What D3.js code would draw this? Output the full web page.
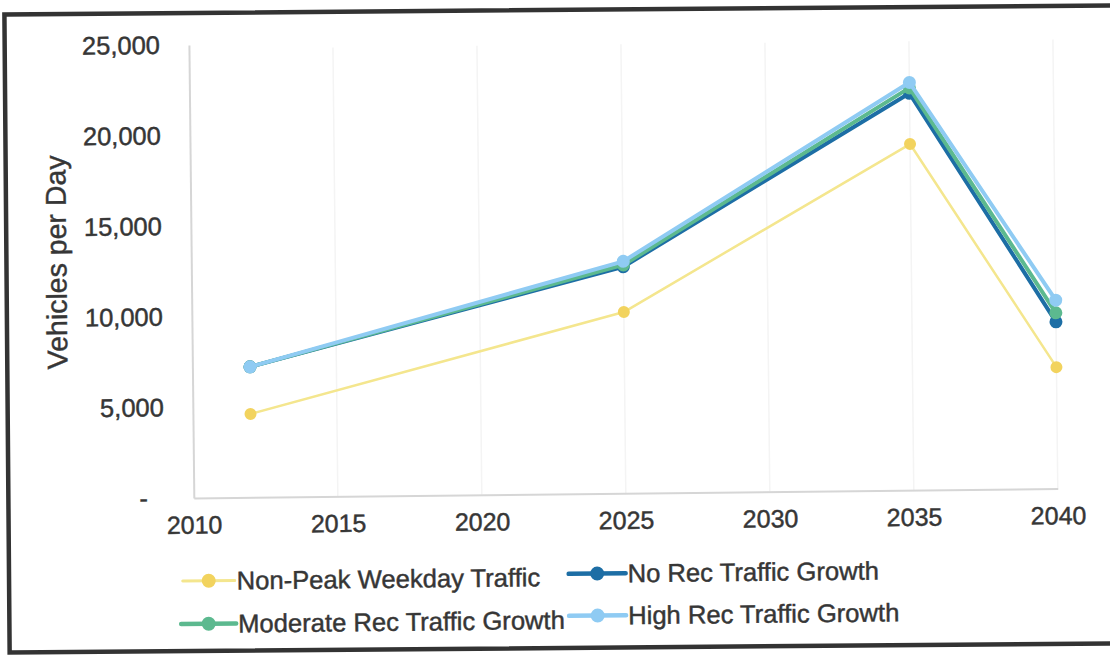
<!DOCTYPE html>
<html><head><meta charset="utf-8">
<script src="https://cdn.jsdelivr.net/npm/d3@7"></script>
<style>
html,body{margin:0;padding:0;background:#fff;}
text{font-family:Arial,"Liberation Sans",sans-serif;fill:#363636;stroke:#363636;stroke-width:0.45px;}
</style></head>
<body>
<script>
const years = [2012, 2025, 2035, 2040];
const xTicks = [2010, 2015, 2020, 2025, 2030, 2035, 2040];
const yTicks = [0, 5000, 10000, 15000, 20000, 25000];
const seriesNames = ["Non-Peak Weekday Traffic", "No Rec Traffic Growth", "Moderate Rec Traffic Growth", "High Rec Traffic Growth"];
const nonPeak = [4600, 10000, 19100, 6700];
const noRec = [7200, 12500, 21900, 9200];
const moderateRec = [7200, 12600, 22200, 9700];
const highRec = [7200, 12800, 22500, 10400];
const colors = ["#f2d35e", "#1d6ea5", "#5cb98f", "#8fcbf3"];
const lineColors = ["#f4e68e", "#1d6ea5", "#5cb98f", "#8fcbf3"];

const W = 1110, H = 657;
const svg = d3.select("body").append("svg").attr("width", W).attr("height", H);

// frame (scanned, slightly tilted); right edge runs off the page
svg.append("rect").attr("transform", "rotate(-0.47 555 328)")
  .attr("x", 7).attr("y", 10).attr("width", 1125).attr("height", 638)
  .attr("fill", "none").attr("stroke", "#333").attr("stroke-width", 4.5);

const g = svg.append("g").attr("transform", "rotate(-0.62 555 328)");

const x = d3.scaleLinear().domain([2010, 2040]).range([192, 1056]);
const y = d3.scaleLinear().domain([0, 25000]).range([494, 41]);

// vertical gridlines
g.append("g").selectAll("line").data(xTicks.slice(1)).join("line")
  .attr("x1", d => x(d)).attr("x2", d => x(d)).attr("y1", y(25000) + 4).attr("y2", y(0))
  .attr("stroke", "#f4f4f4").attr("stroke-width", 1.5);

// axes
const xAxis = g.append("g").attr("transform", `translate(0,${y(0)})`)
  .call(d3.axisBottom(x).tickValues(xTicks).tickFormat(d3.format("d")).tickSize(0).tickPadding(18));
xAxis.select(".domain").attr("stroke", "#d6d6d6").attr("stroke-width", 2);
xAxis.selectAll("text").attr("font-size", 25).attr("fill", "#363636");

const fmt = d => d === 0 ? "-" : d3.format(",")(d);
const yAxis = g.append("g").attr("transform", `translate(${x(2010)},0)`)
  .call(d3.axisLeft(y).tickValues(yTicks).tickFormat(fmt).tickSize(0).tickPadding(29));
yAxis.select(".domain").attr("stroke", "#d6d6d6").attr("stroke-width", 2);
yAxis.selectAll("text").attr("font-size", 25.5).attr("fill", "#363636");
yAxis.selectAll(".tick").filter(d => d === 0).select("text").attr("dx", -17);

// y title
g.append("text").attr("transform", `translate(57,257) rotate(-90)`)
  .attr("text-anchor", "middle").attr("dominant-baseline", "central")
  .attr("font-size", 28.5).text("Vehicles per Day");

// series
const data = [nonPeak, noRec, moderateRec, highRec];
const line = d3.line().x((d, i) => x(years[i])).y(d => y(d));
data.forEach((vals, k) => {
  const s = g.append("g");
  s.append("path").datum(vals).attr("d", line).attr("fill", "none")
    .attr("stroke", lineColors[k]).attr("stroke-width", k === 0 ? 2.5 : 4)
    .attr("stroke-linejoin", "round");
  s.selectAll("circle").data(vals).join("circle")
    .attr("cx", (d, i) => x(years[i])).attr("cy", d => y(d))
    .attr("r", k === 0 ? 6 : 6.5).attr("fill", colors[k]);
});

// legend
const legendPos = [
  {lx: 180, ly: 577, tx: 234},
  {lx: 566, ly: 574, tx: 625},
  {lx: 178, ly: 620, tx: 235},
  {lx: 566, ly: 616, tx: 625}
];
legendPos.forEach((p, k) => {
  const lg = g.append("g");
  lg.append("line").attr("x1", p.lx).attr("x2", p.tx - 2).attr("y1", p.ly).attr("y2", p.ly)
    .attr("stroke", k === 0 ? lineColors[0] : colors[k]).attr("stroke-width", k === 0 ? 3 : 4.5)
    .attr("stroke-linecap", "round");
  lg.append("circle").attr("cx", (p.lx + p.tx - 2) / 2).attr("cy", p.ly).attr("r", 7).attr("fill", colors[k]);
  lg.append("text").attr("x", p.tx).attr("y", p.ly).attr("dominant-baseline", "central")
    .attr("font-size", 25.6).text(seriesNames[k]);
});
</script>
</body></html>
